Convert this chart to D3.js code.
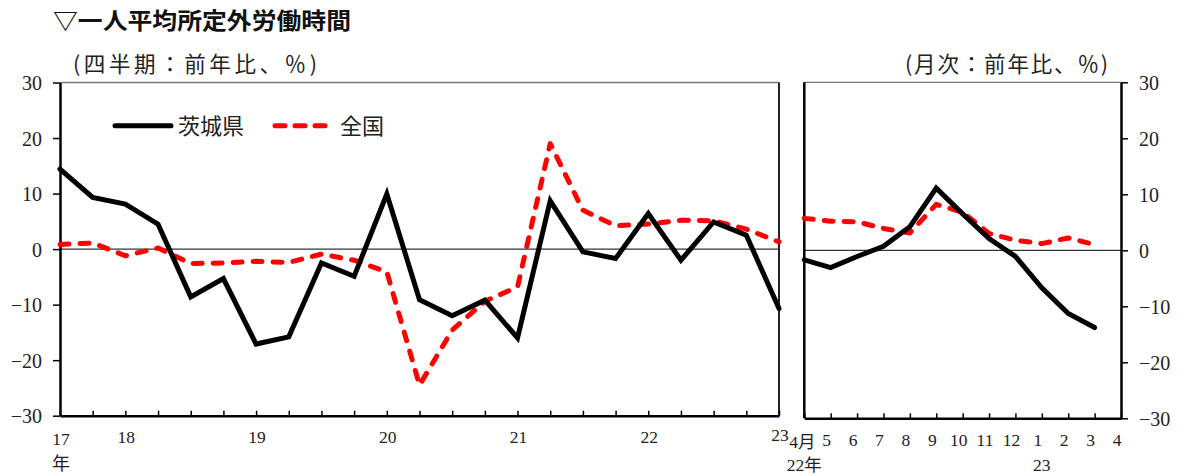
<!DOCTYPE html>
<html>
<head>
<meta charset="utf-8">
<script src="https://cdn.jsdelivr.net/npm/d3@7"></script>
<style>
  html, body { margin: 0; padding: 0; background: #fff; }
  svg { display: block; }
  .num { font-family: "Liberation Serif", "Noto Sans CJK JP", serif; fill: #222; }
  .jp { font-family: "Noto Sans CJK JP", sans-serif; fill: #222; }
</style>
</head>
<body>
<svg id="chart" width="1181" height="475"></svg>
<script>
// Quarterly series, 2017 Q3 – 2023 Q1 (year-on-year, %)
const quarters = ["17Q3","17Q4","18Q1","18Q2","18Q3","18Q4","19Q1","19Q2","19Q3","19Q4",
                  "20Q1","20Q2","20Q3","20Q4","21Q1","21Q2","21Q3","21Q4","22Q1","22Q2",
                  "22Q3","22Q4","23Q1"];
const ibarakiQ = [14.4, 9.3, 8.1, 4.5, -8.6, -5.3, -17.1, -15.8, -2.5, -4.9,
                  9.9, -9.1, -12.0, -9.2, -16.0, 8.7, -0.5, -1.7, 6.4, -2.0,
                  4.9, 2.5, -10.7];
const nationalQ = [0.85, 1.1, -1.2, 0.2, -2.6, -2.5, -2.2, -2.4, -0.9, -2.0,
                   -4.1, -24.5, -14.6, -9.4, -6.8, 19.0, 7.0, 4.2, 4.5, 5.2,
                   5.1, 3.6, 1.3];
const yearTicks = ["17", "18", "19", "20", "21", "22", "23"];
const yearTickAt = ["17Q3", "18Q1", "19Q1", "20Q1", "21Q1", "22Q1", "23Q1"];

// Monthly series, April 2022 – March 2023 (year-on-year, %)
const months = ["4月","5","6","7","8","9","10","11","12","1","2","3","4"];
const ibarakiM = [-1.7, -3.1, -1.1, 0.7, 4.2, 11.1, 6.5, 2.1, -1.1, -6.7, -11.3, -13.8];
const nationalM = [5.7, 5.2, 5.1, 3.9, 3.1, 8.2, 6.8, 3.0, 1.8, 1.2, 2.2, 1.0];

const yTicks = [-30, -20, -10, 0, 10, 20, 30];
const seriesNames = ["茨城県", "全国"];

const svg = d3.select("#chart");
const fmt = d => d < 0 ? "\u2212" + Math.abs(d) : String(d);

// ---------- Title ----------
svg.append("text").attr("class", "jp")
  .attr("x", 53).attr("y", 29)
  .attr("font-size", 23).attr("font-weight", "bold")
  .attr("textLength", 298).attr("lengthAdjust", "spacingAndGlyphs")
  .style("fill", "#111")
  .text("▽一人平均所定外労働時間");

svg.append("text").attr("class", "jp")
  .attr("x", 73).attr("y", 72)
  .attr("font-size", 21.5)
  .attr("textLength", 244).attr("lengthAdjust", "spacing")
  .text("(四半期：前年比、％)");

svg.append("text").attr("class", "jp")
  .attr("x", 905).attr("y", 72)
  .attr("font-size", 21.5)
  .attr("textLength", 203).attr("lengthAdjust", "spacing")
  .text("(月次：前年比、％)");

// ---------- Quarterly panel ----------
const L = { x0: 60, x1: 779, y0: 82.5, y1: 415.7 };
const xL = d3.scaleLinear().domain([0, quarters.length - 1]).range([L.x0, L.x1]);
const yL = d3.scaleLinear().domain([-30, 30]).range([L.y1, L.y0]);

const gL = svg.append("g");

// frame top / right
gL.append("line").attr("x1", L.x0).attr("x2", L.x1).attr("y1", L.y0).attr("y2", L.y0)
  .attr("stroke", "#777").attr("stroke-width", 1.3);
gL.append("line").attr("x1", L.x1).attr("x2", L.x1).attr("y1", L.y0).attr("y2", L.y1)
  .attr("stroke", "#222").attr("stroke-width", 2);

// zero line
gL.append("line").attr("x1", L.x0).attr("x2", L.x1).attr("y1", yL(0)).attr("y2", yL(0))
  .attr("stroke", "#000").attr("stroke-width", 1);

// y axis (left)
const axL = gL.append("g").attr("transform", `translate(${L.x0},0)`)
  .call(d3.axisLeft(yL).tickValues(yTicks).tickSize(7).tickSizeOuter(0).tickPadding(11).tickFormat(fmt));
axL.select(".domain").attr("stroke", "#000").attr("stroke-width", 2.5);
axL.selectAll(".tick line").attr("stroke", "#000").attr("stroke-width", 1.5);
axL.selectAll(".tick text").attr("class", "num").attr("font-size", 20).attr("fill", "#222")
  .attr("dy", "0.36em");

// x axis (bottom) with inward ticks
const axLB = gL.append("g").attr("transform", `translate(0,${L.y1})`)
  .call(d3.axisBottom(xL).tickValues(d3.range(quarters.length)).tickSize(-5).tickSizeOuter(0).tickFormat(""));
axLB.select(".domain").attr("stroke", "#000").attr("stroke-width", 2.5);
axLB.selectAll(".tick line").attr("stroke", "#000").attr("stroke-width", 1.5);

// year labels
const yearLabelY = { "17": 445, "23": 441 };
yearTicks.forEach((t, i) => {
  const xi = quarters.indexOf(yearTickAt[i]);
  svg.append("text").attr("class", "num")
    .attr("x", xL(xi) + 1).attr("y", yearLabelY[t] || 443)
    .attr("text-anchor", "middle").attr("font-size", 17.5)
    .text(t);
});
svg.append("text").attr("class", "jp")
  .attr("x", xL(0) + 1).attr("y", 470).attr("text-anchor", "middle")
  .attr("font-size", 18).text("年");

// series lines
const lineL = (vals) => d3.line().x((d, i) => xL(i)).y(d => yL(d))(vals);
gL.append("path").attr("d", lineL(nationalQ))
  .attr("fill", "none").attr("stroke", "#ff0000").attr("stroke-width", 5)
  .attr("stroke-dasharray", "9,11").attr("stroke-linecap", "round").attr("stroke-linejoin", "round");
gL.append("path").attr("d", lineL(ibarakiQ))
  .attr("fill", "none").attr("stroke", "#000").attr("stroke-width", 5)
  .attr("stroke-linecap", "round").attr("stroke-linejoin", "miter");

// legend
const leg = svg.append("g");
leg.append("line").attr("x1", 115).attr("x2", 171).attr("y1", 125.7).attr("y2", 125.7)
  .attr("stroke", "#000").attr("stroke-width", 5).attr("stroke-linecap", "round");
leg.append("text").attr("class", "jp").attr("x", 178).attr("y", 133.5)
  .attr("font-size", 22).text(seriesNames[0]);
leg.append("line").attr("x1", 275).attr("x2", 330).attr("y1", 125.7).attr("y2", 125.7)
  .attr("stroke", "#ff0000").attr("stroke-width", 5).attr("stroke-linecap", "round")
  .attr("stroke-dasharray", "10,10");
leg.append("text").attr("class", "jp").attr("x", 340).attr("y", 133.5)
  .attr("font-size", 22).text(seriesNames[1]);

// ---------- Monthly panel ----------
const R = { x0: 804.3, x1: 1121, y0: 82.3, y1: 418.3 };
const xR = d3.scaleLinear().domain([0, months.length - 1]).range([R.x0, R.x1]);
const yR = d3.scaleLinear().domain([-30, 30]).range([R.y1, R.y0]);

const gR = svg.append("g");
gR.append("line").attr("x1", R.x0).attr("x2", R.x1).attr("y1", R.y0).attr("y2", R.y0)
  .attr("stroke", "#777").attr("stroke-width", 1.3);
gR.append("line").attr("x1", R.x0).attr("x2", R.x0).attr("y1", R.y0).attr("y2", R.y1)
  .attr("stroke", "#000").attr("stroke-width", 2.5);
gR.append("line").attr("x1", R.x0).attr("x2", R.x1).attr("y1", yR(0)).attr("y2", yR(0))
  .attr("stroke", "#000").attr("stroke-width", 1);

const axR = gR.append("g").attr("transform", `translate(${R.x1},0)`)
  .call(d3.axisRight(yR).tickValues(yTicks).tickSize(7).tickSizeOuter(0).tickPadding(11).tickFormat(fmt));
axR.select(".domain").attr("stroke", "#000").attr("stroke-width", 2.5);
axR.selectAll(".tick line").attr("stroke", "#000").attr("stroke-width", 1.5);
axR.selectAll(".tick text").attr("class", "num").attr("font-size", 20).attr("fill", "#222")
  .attr("dy", "0.36em");

const axRB = gR.append("g").attr("transform", `translate(0,${R.y1})`)
  .call(d3.axisBottom(xR).tickValues(d3.range(months.length)).tickSize(-5).tickSizeOuter(0).tickFormat(""));
axRB.select(".domain").attr("stroke", "#000").attr("stroke-width", 2.5);
axRB.selectAll(".tick line").attr("stroke", "#000").attr("stroke-width", 1.5);

months.forEach((m, i) => {
  svg.append("text").attr("class", "num")
    .attr("x", xR(i) - (i === 0 ? 2 : 4)).attr("y", i === 0 ? 448 : 446)
    .attr("text-anchor", "middle").attr("font-size", 17.5)
    .text(m);
});
svg.append("text").attr("class", "num")
  .attr("x", xR(0)).attr("y", 471).attr("text-anchor", "middle")
  .attr("font-size", 17.5).text("22年");
svg.append("text").attr("class", "num")
  .attr("x", xR(months.indexOf("1"))).attr("y", 471).attr("text-anchor", "middle")
  .attr("font-size", 17.5).text("23");

const lineR = (vals) => d3.line().x((d, i) => xR(i)).y(d => yR(d))(vals);
gR.append("path").attr("d", lineR(nationalM))
  .attr("fill", "none").attr("stroke", "#ff0000").attr("stroke-width", 5)
  .attr("stroke-dasharray", "9,11").attr("stroke-linecap", "round").attr("stroke-linejoin", "round");
gR.append("path").attr("d", lineR(ibarakiM))
  .attr("fill", "none").attr("stroke", "#000").attr("stroke-width", 5)
  .attr("stroke-linecap", "round").attr("stroke-linejoin", "miter");
</script>
</body>
</html>
